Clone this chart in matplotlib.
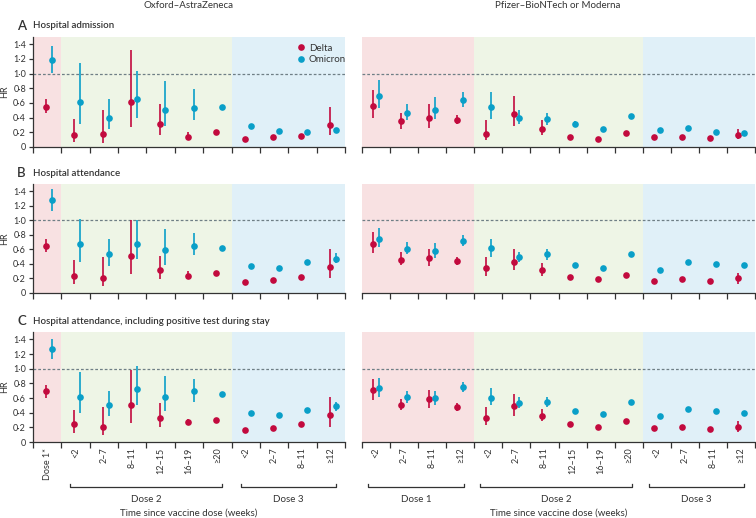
import matplotlib
matplotlib.use("Agg")
import matplotlib.pyplot as plt
from matplotlib.lines import Line2D
import matplotlib.transforms as mtransforms
import numpy as np

plt.rcParams['font.family'] = ['Lato', 'DejaVu Sans']

# ---------------- data ----------------
az_labels = ["Dose 1*", "<2", "2–7", "8–11", "12–15", "16–19", "≥20", "<2", "2–7", "8–11", "≥12"]
pf_labels = ["<2", "2–7", "8–11", "≥12", "<2", "2–7", "8–11", "12–15", "16–19", "≥20", "<2", "2–7", "8–11", "≥12"]

# groups: (name, first index, last index)
az_groups = [("Dose 1", 0, 0), ("Dose 2", 1, 6), ("Dose 3", 7, 10)]
pf_groups = [("Dose 1", 0, 3), ("Dose 2", 4, 9), ("Dose 3", 10, 13)]

panel_titles = ["Hospital admission", "Hospital attendance",
                "Hospital attendance, including positive test during stay"]
panel_letters = ["A", "B", "C"]
column_titles = ["Oxford–AstraZeneca", "Pfizer–BioNTech or Moderna"]

# Panel A – Oxford-AstraZeneca
az_a_delta    = [0.55, 0.16, 0.18, 0.61, 0.32, 0.14, 0.21, 0.105, 0.13, 0.15, 0.30]
az_a_delta_lo = [0.46, 0.07, 0.06, 0.27, 0.17, 0.10, 0.19, 0.09, 0.11, 0.13, 0.16]
az_a_delta_hi = [0.65, 0.38, 0.50, 1.32, 0.58, 0.20, 0.23, 0.12, 0.15, 0.17, 0.55]
az_a_omi      = [1.18, 0.61, 0.40, 0.65, 0.50, 0.53, 0.55, 0.29, 0.22, 0.21, 0.23]
az_a_omi_lo   = [1.01, 0.32, 0.25, 0.40, 0.28, 0.37, 0.53, 0.27, 0.20, 0.19, 0.21]
az_a_omi_hi   = [1.38, 1.15, 0.66, 1.04, 0.90, 0.79, 0.57, 0.31, 0.24, 0.23, 0.25]

# Panel A – Pfizer/Moderna
pf_a_delta    = [0.56, 0.35, 0.39, 0.37, 0.18, 0.45, 0.24, 0.14, 0.105, 0.19, 0.14, 0.13, 0.12, 0.16]
pf_a_delta_lo = [0.40, 0.25, 0.26, 0.31, 0.10, 0.29, 0.16, 0.12, 0.09, 0.17, 0.12, 0.11, 0.10, 0.11]
pf_a_delta_hi = [0.78, 0.47, 0.59, 0.44, 0.37, 0.69, 0.37, 0.16, 0.12, 0.21, 0.16, 0.15, 0.14, 0.24]
pf_a_omi      = [0.70, 0.47, 0.51, 0.64, 0.54, 0.39, 0.38, 0.31, 0.25, 0.42, 0.23, 0.26, 0.21, 0.19]
pf_a_omi_lo   = [0.53, 0.37, 0.38, 0.55, 0.38, 0.31, 0.30, 0.27, 0.23, 0.40, 0.21, 0.24, 0.19, 0.17]
pf_a_omi_hi   = [0.92, 0.59, 0.68, 0.75, 0.75, 0.50, 0.47, 0.36, 0.27, 0.44, 0.25, 0.28, 0.23, 0.21]

# Panel B – Oxford-AstraZeneca
az_b_delta    = [0.65, 0.24, 0.21, 0.51, 0.32, 0.23, 0.28, 0.15, 0.18, 0.22, 0.36]
az_b_delta_lo = [0.57, 0.12, 0.09, 0.26, 0.19, 0.20, 0.26, 0.13, 0.16, 0.20, 0.21]
az_b_delta_hi = [0.75, 0.46, 0.49, 1.00, 0.51, 0.30, 0.30, 0.17, 0.20, 0.24, 0.60]
az_b_omi      = [1.28, 0.67, 0.53, 0.68, 0.59, 0.65, 0.62, 0.37, 0.35, 0.42, 0.47]
az_b_omi_lo   = [1.13, 0.43, 0.37, 0.47, 0.39, 0.52, 0.60, 0.35, 0.33, 0.40, 0.41]
az_b_omi_hi   = [1.43, 1.02, 0.74, 1.00, 0.88, 0.83, 0.64, 0.39, 0.37, 0.44, 0.55]

# Panel B – Pfizer/Moderna
pf_b_delta    = [0.68, 0.46, 0.48, 0.44, 0.34, 0.43, 0.32, 0.22, 0.19, 0.25, 0.17, 0.19, 0.17, 0.20]
pf_b_delta_lo = [0.55, 0.38, 0.37, 0.39, 0.23, 0.31, 0.24, 0.20, 0.17, 0.23, 0.15, 0.17, 0.15, 0.13]
pf_b_delta_hi = [0.84, 0.56, 0.61, 0.50, 0.49, 0.60, 0.41, 0.24, 0.21, 0.27, 0.19, 0.21, 0.19, 0.28]
pf_b_omi      = [0.75, 0.61, 0.58, 0.72, 0.62, 0.49, 0.53, 0.39, 0.35, 0.53, 0.32, 0.43, 0.40, 0.38]
pf_b_omi_lo   = [0.63, 0.53, 0.48, 0.65, 0.50, 0.42, 0.46, 0.37, 0.33, 0.51, 0.30, 0.41, 0.38, 0.36]
pf_b_omi_hi   = [0.90, 0.70, 0.69, 0.80, 0.75, 0.57, 0.60, 0.41, 0.37, 0.55, 0.34, 0.45, 0.42, 0.40]

# Panel C – Oxford-AstraZeneca
az_c_delta    = [0.69, 0.24, 0.21, 0.51, 0.33, 0.27, 0.30, 0.17, 0.19, 0.24, 0.37]
az_c_delta_lo = [0.60, 0.12, 0.09, 0.26, 0.20, 0.23, 0.28, 0.15, 0.17, 0.22, 0.21]
az_c_delta_hi = [0.78, 0.44, 0.48, 0.98, 0.53, 0.31, 0.32, 0.19, 0.21, 0.26, 0.62]
az_c_omi      = [1.27, 0.61, 0.50, 0.72, 0.62, 0.69, 0.65, 0.40, 0.37, 0.44, 0.49]
az_c_omi_lo   = [1.13, 0.39, 0.36, 0.50, 0.42, 0.55, 0.63, 0.38, 0.35, 0.42, 0.42]
az_c_omi_hi   = [1.40, 0.95, 0.70, 1.03, 0.90, 0.86, 0.67, 0.42, 0.39, 0.46, 0.55]

# Panel C – Pfizer/Moderna
pf_c_delta    = [0.71, 0.51, 0.58, 0.48, 0.33, 0.49, 0.36, 0.25, 0.20, 0.28, 0.19, 0.20, 0.18, 0.20]
pf_c_delta_lo = [0.57, 0.43, 0.46, 0.42, 0.23, 0.35, 0.28, 0.23, 0.18, 0.26, 0.17, 0.18, 0.16, 0.14]
pf_c_delta_hi = [0.86, 0.59, 0.71, 0.53, 0.48, 0.66, 0.45, 0.27, 0.22, 0.30, 0.21, 0.22, 0.20, 0.29]
pf_c_omi      = [0.74, 0.61, 0.60, 0.75, 0.60, 0.53, 0.54, 0.42, 0.38, 0.54, 0.36, 0.45, 0.42, 0.39]
pf_c_omi_lo   = [0.62, 0.53, 0.51, 0.68, 0.50, 0.46, 0.48, 0.40, 0.36, 0.52, 0.34, 0.43, 0.40, 0.37]
pf_c_omi_hi   = [0.87, 0.69, 0.70, 0.82, 0.73, 0.61, 0.62, 0.44, 0.40, 0.56, 0.38, 0.47, 0.44, 0.41]

y_ticks = [0, 0.2, 0.4, 0.6, 0.8, 1.0, 1.2, 1.4]
y_ticklabels = ["0", "0·2", "0·4", "0·6", "0·8", "1·0", "1·2", "1·4"]

# ---------------- style ----------------
DELTA = "#c20a3e"
OMI = "#0a9fc8"
BG = ["#f8e1e2", "#eef5e6", "#e0f0f8"]
TXT = "#333333"

W, H = 756, 518
fig = plt.figure(figsize=(W / 100, H / 100), dpi=100)

def px_axes(x0, x1, ytop, ybot):
    return fig.add_axes([x0 / W, 1 - ybot / H, (x1 - x0) / W, (ybot - ytop) / H])

rows = [(37, 147), (184, 293), (332, 442)]
az_data = [
    (az_a_delta, az_a_delta_lo, az_a_delta_hi, az_a_omi, az_a_omi_lo, az_a_omi_hi),
    (az_b_delta, az_b_delta_lo, az_b_delta_hi, az_b_omi, az_b_omi_lo, az_b_omi_hi),
    (az_c_delta, az_c_delta_lo, az_c_delta_hi, az_c_omi, az_c_omi_lo, az_c_omi_hi),
]
pf_data = [
    (pf_a_delta, pf_a_delta_lo, pf_a_delta_hi, pf_a_omi, pf_a_omi_lo, pf_a_omi_hi),
    (pf_b_delta, pf_b_delta_lo, pf_b_delta_hi, pf_b_omi, pf_b_omi_lo, pf_b_omi_hi),
    (pf_c_delta, pf_c_delta_lo, pf_c_delta_hi, pf_c_omi, pf_c_omi_lo, pf_c_omi_hi),
]

def draw(ax, data, labels, groups, offs, left, bottom_labels):
    d, dlo, dhi, o, olo, ohi = data
    n = len(labels)
    for (name, a, b), c in zip(groups, BG):
        ax.axvspan(a, b + 1, color=c, lw=0, zorder=0)
    ax.axhline(1.0, color="#6f7f86", lw=0.9, ls=(0, (2.2, 1.6)), zorder=1)
    centers = np.arange(n) + 0.5
    xd = centers + offs[0]
    xo = centers + offs[1]
    ax.vlines(xd, dlo, dhi, color=DELTA, lw=1.2, zorder=2)
    ax.vlines(xo, olo, ohi, color=OMI, lw=1.2, zorder=2)
    ax.plot(xd, d, "o", color=DELTA, ms=4.8, mew=0, zorder=3)
    ax.plot(xo, o, "o", color=OMI, ms=4.8, mew=0, zorder=3)
    ax.set_xlim(0, n)
    ax.set_ylim(0, 1.5)
    for s in ["top", "right"]:
        ax.spines[s].set_visible(False)
    ax.spines["bottom"].set_color(TXT)
    ax.spines["bottom"].set_linewidth(0.9)
    ax.set_xticks(np.arange(n + 1), minor=True)
    ax.tick_params(axis="x", which="minor", length=4, width=0.9, color=TXT, direction="out")
    ax.set_xticks(centers)
    if bottom_labels:
        ax.set_xticklabels(labels, rotation=90, fontsize=6.5, color=TXT)
    else:
        ax.set_xticklabels([])
    ax.tick_params(axis="x", which="major", length=0, pad=4)
    if left:
        ax.spines["left"].set_color(TXT)
        ax.spines["left"].set_linewidth(0.9)
        ax.set_yticks(y_ticks)
        ax.set_yticklabels(y_ticklabels, fontsize=6.5, color=TXT)
        ax.tick_params(axis="y", length=3, width=0.9, color=TXT, pad=2)
        ax.set_ylabel("HR", fontsize=6.5, color=TXT, labelpad=3)
    else:
        ax.spines["left"].set_visible(False)
        ax.set_yticks([])

axes_az, axes_pf = [], []
for i, (yt, yb) in enumerate(rows):
    a1 = px_axes(33, 345, yt, yb)
    a2 = px_axes(362, 755, yt, yb)
    draw(a1, az_data[i], az_labels, az_groups, (-0.04, 0.17), True, i == 2)
    draw(a2, pf_data[i], pf_labels, pf_groups, (-0.1, 0.1), False, i == 2)
    axes_az.append(a1)
    axes_pf.append(a2)
    fig.text(17 / W, 1 - (yt - 11) / H, panel_letters[i], fontsize=9.5, fontweight="semibold",
             color=TXT, va="center", ha="left")
    fig.text(33 / W, 1 - (yt - 11) / H, panel_titles[i], fontsize=7, fontweight="semibold",
             color=TXT, va="center", ha="left")

# column titles
fig.text(189 / W, 1 - 5 / H, column_titles[0], fontsize=7, color=TXT, ha="center", va="center")
fig.text(558 / W, 1 - 5 / H, column_titles[1], fontsize=7, color=TXT, ha="center", va="center")

# legend
handles = [Line2D([], [], ls="none", marker="o", color=DELTA, ms=4.8, mew=0, label="Delta"),
           Line2D([], [], ls="none", marker="o", color=OMI, ms=4.8, mew=0, label="Omicron")]
axes_az[0].legend(handles=handles, loc="upper left", bbox_to_anchor=(0.825, 1.0),
                  frameon=False, fontsize=7, handlelength=0.8, handletextpad=0.4,
                  labelspacing=0.25, borderaxespad=0.3, labelcolor=TXT)

# brackets under panel C
def brackets(ax, groups, lpad, rpad, skip_single=True):
    tr = mtransforms.blended_transform_factory(ax.transData, ax.transAxes)
    yb, yt, yl = -0.41, -0.38, -0.52
    for name, a, b in groups:
        if skip_single and a == b:
            continue
        x0 = a + 0.5 - lpad
        x1 = b + 0.5 + rpad
        ax.plot([x0, x0, x1, x1], [yt, yb, yb, yt], color=TXT, lw=0.9,
                transform=tr, clip_on=False)
        ax.text((x0 + x1) / 2, yl, name, transform=tr, fontsize=7, color=TXT,
                ha="center", va="center")
    ax.text(0.5, -0.645, "Time since vaccine dose (weeks)", transform=ax.transAxes,
            fontsize=7, color=TXT, ha="center", va="center")

brackets(axes_az[2], az_groups, 0.18, 0.18)
brackets(axes_pf[2], pf_groups, 0.28, 0.12)

fig.savefig("out.png", dpi=100)
